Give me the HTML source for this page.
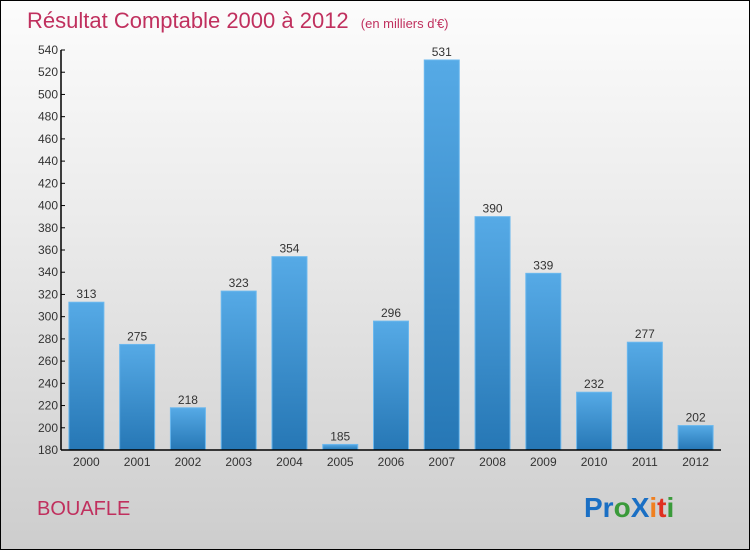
<!DOCTYPE html>
<html><head><meta charset="utf-8"><style>
body{margin:0}
#c{position:relative;width:748px;height:548px;border:1px solid #000;background:linear-gradient(#fcfcfc,#ebebeb 40%,#cdcdcd);font-family:"Liberation Sans",sans-serif;overflow:hidden}
</style></head><body>
<div id="c">
<svg width="748" height="548" id="svg">
<defs><linearGradient id="g" x1="0" y1="0" x2="0" y2="1"><stop offset="0" stop-color="#56aae6"/><stop offset="1" stop-color="#2677b5"/></linearGradient></defs>
<text x="26" y="27" font-size="22" fill="#c0305e">Résultat Comptable 2000 à 2012 <tspan font-size="13" dx="6">(en milliers d'€)</tspan></text>
<g id="plot"></g>
<text x="36" y="514" font-size="20" fill="#c0305e">BOUAFLE</text>
<text x="583" y="516" font-size="28" font-weight="bold"><tspan fill="#1a6fc4">Pr</tspan><tspan fill="#3a9a3a">o</tspan><tspan fill="#1a6fc4">X</tspan><tspan fill="#f08020">i</tspan><tspan fill="#e03020">t</tspan><tspan fill="#3a9a3a">i</tspan></text>
</svg></div>
<script>
const years=["2000","2001","2002","2003","2004","2005","2006","2007","2008","2009","2010","2011","2012"];
const values=[313,275,218,323,354,185,296,531,390,339,232,277,202];
const yTicks=[180,200,220,240,260,280,300,320,340,360,380,400,420,440,460,480,500,520,540];
const ns="http://www.w3.org/2000/svg";
const g=document.getElementById('plot');
const x0=60,x1=720,yb=449,yt=49,ymin=180,ymax=540;
const y=v=>yb-(v-ymin)/(ymax-ymin)*(yb-yt);
const slot=(x1-x0)/years.length;
function mk(t,a,p){const e=document.createElementNS(ns,t);for(const k in a)e.setAttribute(k,a[k]);(p||g).appendChild(e);return e;}
yTicks.forEach(t=>{
 const l=mk('line',{x1:x0,x2:x0+4,y1:y(t),y2:y(t),stroke:'#000'});
 
 
 const tx=mk('text',{x:x0-3,y:y(t)+4,'font-size':12,'text-anchor':'end',fill:'#333'});
 tx.textContent=t;
 
 
});
years.forEach((yr,i)=>{
 const cx=x0+slot*(i+0.5),v=values[i];
 const r=mk('rect',{x:cx-17.5,y:y(v),width:35,height:yb-y(v),fill:'url(#g)',stroke:'#6bb8ee','stroke-width':1});
 
 
 const vl=mk('text',{x:cx,y:y(v)-4,'font-size':12,'text-anchor':'middle',fill:'#333'});
 vl.textContent=v;
 
 
 const xl=mk('text',{x:cx,y:yb+16,'font-size':12,'text-anchor':'middle',fill:'#333'});
 xl.textContent=yr;
 
 
});
const ya=mk('line',{x1:x0,x2:x0,y1:yt,y2:yb,stroke:'#000','stroke-width':1.5});


const xa=mk('line',{x1:x0,x2:x1,y1:yb,y2:yb,stroke:'#000','stroke-width':1.5});


</script>
</body></html>
